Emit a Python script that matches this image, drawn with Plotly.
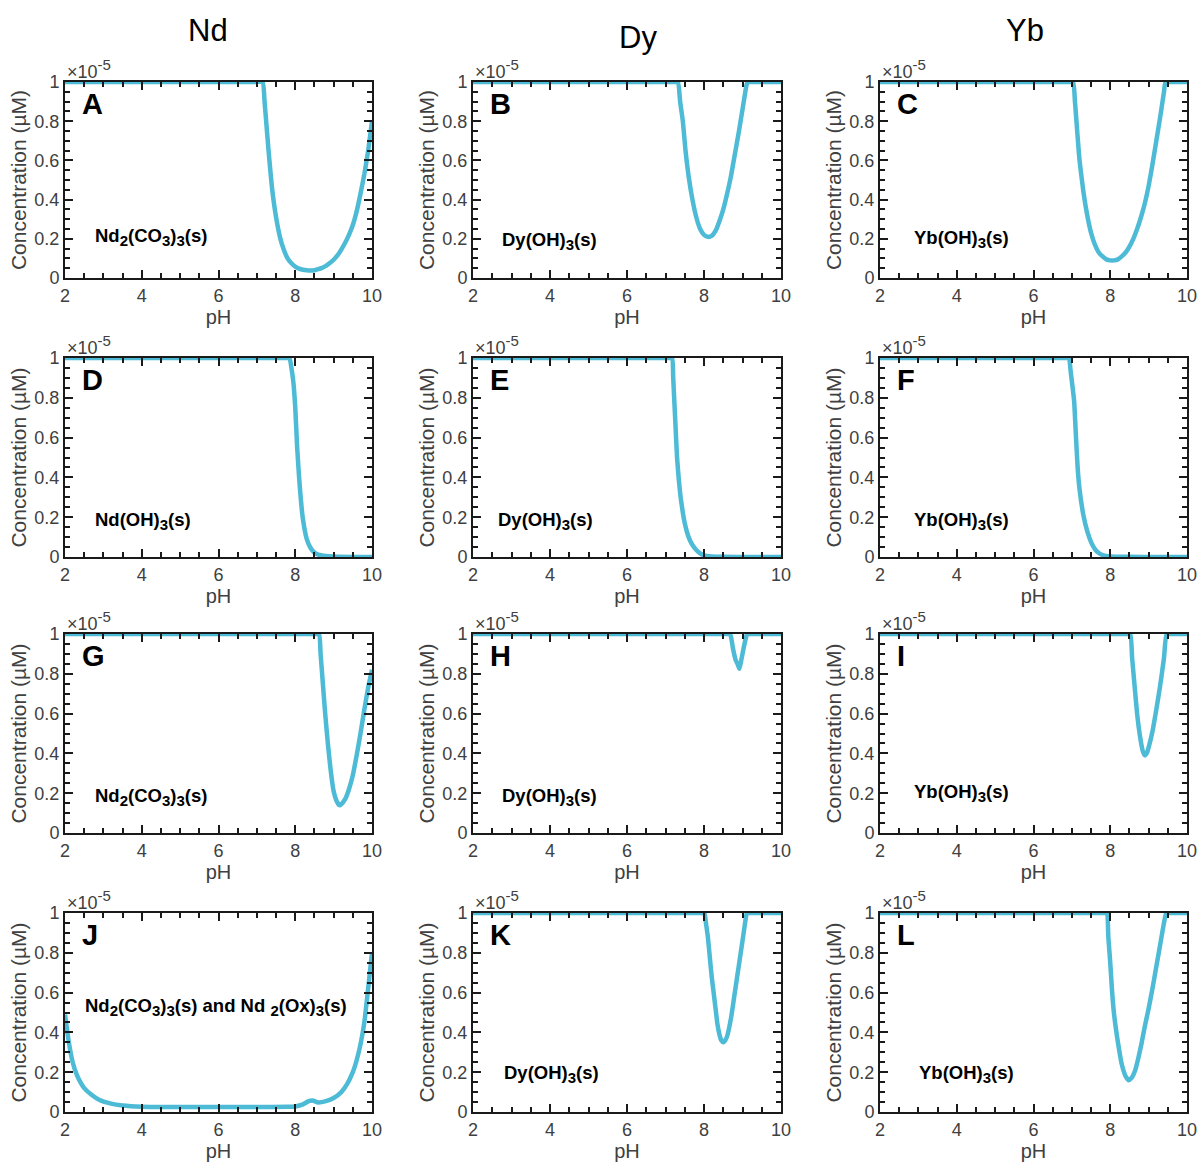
import plotly.graph_objects as go

# Concentration values are in units of 1e-5 µM (axis shows "×10^-5")
ph_A = [2, 5, 7.0, 7.15, 7.2, 7.25, 7.3, 7.35, 7.4, 7.5, 7.6, 7.7, 7.8, 7.9, 8.0, 8.1, 8.2, 8.3, 8.4, 8.5, 8.6, 8.7, 8.8, 8.9, 9.0, 9.1, 9.2, 9.3, 9.4, 9.5, 9.6, 9.7, 9.8, 9.9, 10]
conc_A = [1, 1, 1, 1, 0.9, 0.78, 0.66, 0.55, 0.45, 0.31, 0.21, 0.145, 0.10, 0.075, 0.058, 0.048, 0.042, 0.039, 0.038, 0.04, 0.045, 0.052, 0.062, 0.076, 0.093, 0.115, 0.145, 0.18, 0.22, 0.27, 0.34, 0.43, 0.53, 0.65, 0.80]

ph_B = [2, 5, 7.2, 7.32, 7.38, 7.45, 7.52, 7.6, 7.7, 7.8, 7.9, 8.0, 8.1, 8.2, 8.3, 8.4, 8.5, 8.6, 8.7, 8.8, 8.9, 9.0, 9.1, 9.13, 9.25, 10]
conc_B = [1, 1, 1, 1, 0.9, 0.8, 0.65, 0.52, 0.4, 0.31, 0.25, 0.22, 0.21, 0.215, 0.24, 0.29, 0.35, 0.43, 0.52, 0.63, 0.74, 0.86, 0.98, 1, 1, 1]

ph_C = [2, 5, 6.9, 7.03, 7.08, 7.15, 7.2, 7.3, 7.4, 7.5, 7.6, 7.7, 7.8, 7.9, 8.0, 8.1, 8.2, 8.3, 8.4, 8.5, 8.6, 8.7, 8.8, 8.9, 9.0, 9.1, 9.2, 9.3, 9.4, 9.44, 9.55, 10]
conc_C = [1, 1, 1, 1, 0.9, 0.72, 0.6, 0.44, 0.32, 0.23, 0.17, 0.13, 0.11, 0.095, 0.09, 0.09, 0.095, 0.11, 0.13, 0.16, 0.2, 0.25, 0.31, 0.38, 0.47, 0.58, 0.7, 0.82, 0.95, 1, 1, 1]

ph_D = [2, 5, 7.75, 7.85, 7.9, 7.95, 8.0, 8.05, 8.1, 8.15, 8.2, 8.3, 8.4, 8.5, 8.6, 8.8, 9.0, 9.5, 10]
conc_D = [1, 1, 1, 1, 0.95, 0.88, 0.75, 0.55, 0.4, 0.28, 0.19, 0.09, 0.045, 0.022, 0.012, 0.005, 0.002, 0, 0]

ph_E = [2, 5, 7.07, 7.17, 7.2, 7.25, 7.3, 7.35, 7.4, 7.5, 7.6, 7.7, 7.8, 7.9, 8.0, 8.2, 8.5, 9.2, 10]
conc_E = [1, 1, 1, 1, 0.9, 0.7, 0.5, 0.38, 0.29, 0.17, 0.1, 0.06, 0.035, 0.018, 0.008, 0.003, 0.001, 0, 0]

ph_F = [2, 5, 6.82, 6.92, 6.97, 7.02, 7.06, 7.1, 7.15, 7.2, 7.3, 7.4, 7.5, 7.6, 7.7, 7.8, 8.0, 8.5, 9.2, 10]
conc_F = [1, 1, 1, 1, 0.93, 0.85, 0.78, 0.63, 0.45, 0.34, 0.21, 0.13, 0.075, 0.04, 0.02, 0.01, 0.003, 0.001, 0, 0]

ph_G = [2, 5, 8.52, 8.62, 8.66, 8.72, 8.78, 8.85, 8.92, 9.0, 9.08, 9.15, 9.2, 9.3, 9.4, 9.5, 9.6, 9.7, 9.8, 9.9, 10]
conc_G = [1, 1, 1, 1, 0.9, 0.75, 0.6, 0.45, 0.32, 0.21, 0.16, 0.14, 0.145, 0.17, 0.22, 0.29, 0.39, 0.5, 0.62, 0.73, 0.82]

ph_H = [2, 5, 8.6, 8.68, 8.75, 8.82, 8.87, 8.92, 8.97, 9.03, 9.1, 9.12, 9.2, 10]
conc_H = [1, 1, 1, 1, 0.93, 0.87, 0.85, 0.825, 0.87, 0.93, 0.99, 1, 1, 1]

ph_I = [2, 5, 8.42, 8.52, 8.57, 8.62, 8.7, 8.78, 8.85, 8.9, 8.95, 9.0, 9.1, 9.2, 9.3, 9.4, 9.47, 9.57, 10]
conc_I = [1, 1, 1, 1, 0.88, 0.77, 0.6, 0.48, 0.41, 0.39, 0.4, 0.43, 0.51, 0.62, 0.74, 0.88, 1, 1, 1]

ph_J = [2.0, 2.1, 2.2, 2.3, 2.4, 2.5, 2.7, 2.9, 3.2, 3.5, 4.0, 5.0, 6.0, 7.0, 7.8, 8.0, 8.2, 8.35, 8.45, 8.6, 8.8, 9.0, 9.2, 9.35, 9.5, 9.6, 9.7, 9.8, 9.9, 10.0]
conc_J = [0.49, 0.35, 0.25, 0.19, 0.15, 0.12, 0.085, 0.06, 0.042, 0.033, 0.027, 0.025, 0.025, 0.025, 0.026, 0.028, 0.038, 0.055, 0.058, 0.048, 0.055, 0.07, 0.1, 0.14, 0.2, 0.26, 0.34, 0.45, 0.62, 0.8]

ph_K = [2, 5, 7.91, 8.01, 8.05, 8.1, 8.15, 8.2, 8.25, 8.3, 8.35, 8.4, 8.45, 8.5, 8.55, 8.6, 8.7, 8.8, 8.9, 9.0, 9.1, 9.12, 9.22, 10]
conc_K = [1, 1, 1, 1, 0.95, 0.88, 0.78, 0.68, 0.6, 0.52, 0.44, 0.39, 0.36, 0.35, 0.36, 0.38, 0.47, 0.6, 0.73, 0.86, 0.99, 1, 1, 1]

ph_L = [2, 5, 7.81, 7.91, 7.95, 8.0, 8.05, 8.1, 8.2, 8.3, 8.4, 8.48, 8.55, 8.65, 8.8, 8.9, 9.0, 9.1, 9.2, 9.3, 9.4, 9.46, 9.56, 10]
conc_L = [1, 1, 1, 1, 0.88, 0.75, 0.6, 0.49, 0.35, 0.24, 0.18, 0.16, 0.17, 0.21, 0.33, 0.43, 0.52, 0.62, 0.73, 0.84, 0.95, 1, 1, 1]

panel_letters = ["A", "B", "C", "D", "E", "F", "G", "H", "I", "J", "K", "L"]
column_titles = ["Nd", "Dy", "Yb"]


def sub(t):
    return f"<sub><span style='font-size:15px'>{t}</span></sub>"


solid_labels = [
    f"Nd{sub(2)}(CO{sub(3)}){sub(3)}(s)", f"Dy(OH){sub(3)}(s)", f"Yb(OH){sub(3)}(s)",
    f"Nd(OH){sub(3)}(s)", f"Dy(OH){sub(3)}(s)", f"Yb(OH){sub(3)}(s)",
    f"Nd{sub(2)}(CO{sub(3)}){sub(3)}(s)", f"Dy(OH){sub(3)}(s)", f"Yb(OH){sub(3)}(s)",
    f"Nd{sub(2)}(CO{sub(3)}){sub(3)}(s) and Nd {sub(2)}(Ox){sub(3)}(s)", f"Dy(OH){sub(3)}(s)", f"Yb(OH){sub(3)}(s)",
]
label_ph = [2.73, 2.70, 2.83, 2.73, 2.60, 2.83, 2.73, 2.70, 2.83, 2.47, 2.75, 2.96]
label_conc = [0.21, 0.19, 0.20, 0.18, 0.18, 0.18, 0.18, 0.18, 0.20, 0.53, 0.19, 0.19]

x_ticks = [2, 4, 6, 8, 10]
y_ticks = [0, 0.2, 0.4, 0.6, 0.8, 1]
y_ticktext = ["0", "0.2", "0.4", "0.6", "0.8", "1"]

ph_data = [ph_A, ph_B, ph_C, ph_D, ph_E, ph_F, ph_G, ph_H, ph_I, ph_J, ph_K, ph_L]
conc_data = [conc_A, conc_B, conc_C, conc_D, conc_E, conc_F, conc_G, conc_H, conc_I, conc_J, conc_K, conc_L]

W, H = 1198, 1162
col_px = [(65, 372), (473, 781), (880, 1187)]
row_px = [(82, 278), (358, 557), (634, 833), (913, 1112)]

FONT = "Liberation Sans, Arial, sans-serif"
GRAY = "#404040"
AX = "#1a1a1a"
LINE = "#4DBAD6"

fig = go.Figure()
layout = dict(
    width=W, height=H, margin=dict(l=0, r=0, t=0, b=0, pad=0, autoexpand=False),
    paper_bgcolor="white", plot_bgcolor="white", showlegend=False,
    font=dict(family=FONT, color=GRAY, size=17),
)
annotations = []

for i in range(12):
    r, c = divmod(i, 3)
    n = i + 1
    xa = "x" if n == 1 else f"x{n}"
    ya = "y" if n == 1 else f"y{n}"
    fig.add_trace(go.Scatter(x=ph_data[i], y=conc_data[i], mode="lines",
                             line=dict(color=LINE, width=4.5, shape="spline", smoothing=0.5),
                             xaxis=xa, yaxis=ya, hoverinfo="skip"))
    xd = [col_px[c][0] / W, col_px[c][1] / W]
    yd = [1 - row_px[r][1] / H, 1 - row_px[r][0] / H]
    common = dict(showgrid=False, zeroline=False, showline=True, linecolor=AX,
                  linewidth=2, mirror="ticks", ticks="inside", ticklen=8, tickwidth=1.8,
                  tickcolor=AX, tickfont=dict(size=18, color=GRAY, family=FONT),
                  automargin=False)
    layout[f"xaxis{n}"] = dict(
        domain=xd, anchor=ya, range=[2, 10],
        tickvals=x_ticks, ticktext=[str(v) for v in x_ticks],
        minor=dict(tickvals=[2 + 0.5 * k for k in range(17)], ticks="inside", ticklen=5,
                   tickwidth=1.8, tickcolor=AX),
        title=dict(text="pH", font=dict(size=20, color=GRAY, family=FONT), standoff=2),
        **common)
    layout[f"yaxis{n}"] = dict(
        domain=yd, anchor=xa, range=[0, 1],
        tickvals=y_ticks, ticktext=y_ticktext,
        minor=dict(tickvals=[0.05 * k for k in range(21)], ticks="inside", ticklen=5,
                   tickwidth=1.8, tickcolor=AX),
        title=dict(text="Concentration (µM)", font=dict(size=21, color=GRAY, family=FONT), standoff=2),
        **common)
    xdom = f"{xa} domain"
    ydom = f"{ya} domain"
    annotations.append(dict(text="×10<sup><span style='font-size:15px'>-5</span></sup>", xref=xdom, yref=ydom,
                            x=0, y=1, xanchor="left", yanchor="bottom", showarrow=False, yshift=-2,
                            font=dict(size=18, color=GRAY, family=FONT)))
    annotations.append(dict(text=f"<b>{panel_letters[i]}</b>", xref=xdom, yref=ydom, x=0.048, y=0.89,
                            xanchor="left", yanchor="middle", showarrow=False,
                            font=dict(size=29, color="black", family=FONT)))
    annotations.append(dict(text=f"<b>{solid_labels[i]}</b>", xref=xa, yref=ya, x=label_ph[i], y=label_conc[i],
                            xanchor="left", yanchor="middle", showarrow=False,
                            font=dict(size=18.5, color="black", family=FONT)))

title_px = [(208, 30), (638, 37), (1025, 31)]
for t, (px, py) in zip(column_titles, title_px):
    annotations.append(dict(text=t, xref="paper", yref="paper", x=px / W, y=1 - py / H,
                            xanchor="center", yanchor="middle", showarrow=False,
                            font=dict(size=31, color="black", family=FONT)))

layout["annotations"] = annotations
fig.update_layout(**layout)
fig.write_html("out.html")
